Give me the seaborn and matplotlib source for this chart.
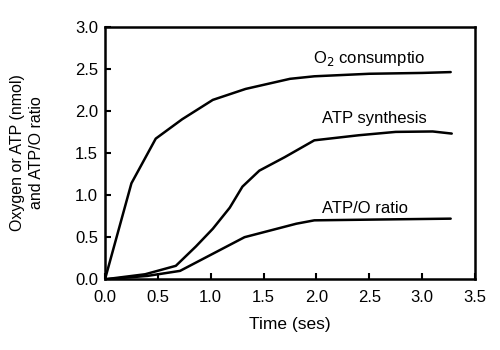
import matplotlib
matplotlib.use("Agg")
import matplotlib.pyplot as plt
import seaborn as sns
import pandas as pd

o2_time = [0.0, 0.25, 0.48, 0.73, 1.02, 1.33, 1.75, 1.98, 2.5, 3.0, 3.27]
o2_vals = [0.0, 1.14, 1.67, 1.90, 2.13, 2.26, 2.38, 2.41, 2.44, 2.45, 2.46]

atp_time = [0.0, 0.38, 0.67, 0.86, 1.02, 1.18, 1.30, 1.46, 1.70, 1.98, 2.4, 2.75, 3.1, 3.28]
atp_vals = [0.0, 0.06, 0.16, 0.39, 0.60, 0.85, 1.10, 1.29, 1.45, 1.65, 1.71, 1.75, 1.755, 1.73]

ratio_time = [0.0, 0.40, 0.71, 1.32, 1.81, 1.98, 2.6, 3.27]
ratio_vals = [0.0, 0.04, 0.10, 0.50, 0.66, 0.70, 0.71, 0.72]

labels = ["O$_2$ consumptio", "ATP synthesis", "ATP/O ratio"]
label_x = [2.5, 2.55, 2.46]
label_y = [2.62, 1.91, 0.84]

sns.set_theme(style="white")
plt.rcParams["font.family"] = ["Liberation Sans", "DejaVu Sans"]

fig = plt.figure(figsize=(5, 3.5), dpi=100)
ax = fig.add_axes([0.21, 0.202, 0.74, 0.722])

for t, v in [(o2_time, o2_vals), (atp_time, atp_vals), (ratio_time, ratio_vals)]:
    df = pd.DataFrame({"t": t, "v": v})
    sns.lineplot(data=df, x="t", y="v", ax=ax, color="black", linewidth=1.8, sort=False)

for lab, lx, ly in zip(labels, label_x, label_y):
    ax.text(lx, ly, lab, ha="center", va="center", fontsize=12, color="black")

ax.set_xlim(0, 3.5)
ax.set_ylim(0, 3.0)
ax.set_xticks([0, 0.5, 1.0, 1.5, 2.0, 2.5, 3.0, 3.5])
ax.set_yticks([0, 0.5, 1.0, 1.5, 2.0, 2.5, 3.0])
ax.set_xticklabels(["0.0", "0.5", "1.0", "1.5", "2.0", "2.5", "3.0", "3.5"])
ax.set_yticklabels(["0.0", "0.5", "1.0", "1.5", "2.0", "2.5", "3.0"])
ax.tick_params(axis="both", direction="in", length=4, width=1.5, colors="black",
               labelsize=12, bottom=True, left=True, top=False, right=False)
ax.tick_params(axis="x", pad=8)
ax.tick_params(axis="y", pad=5)
for s in ax.spines.values():
    s.set_color("black")
    s.set_linewidth(1.8)
ax.set_xlabel("Time (ses)", fontsize=12.5, color="black", labelpad=8)
ax.set_ylabel("Oxygen or ATP (nmol)\nand ATP/O ratio", fontsize=11.5, color="black",
              linespacing=1.4, labelpad=22)

fig.savefig("out.png", dpi=100)
